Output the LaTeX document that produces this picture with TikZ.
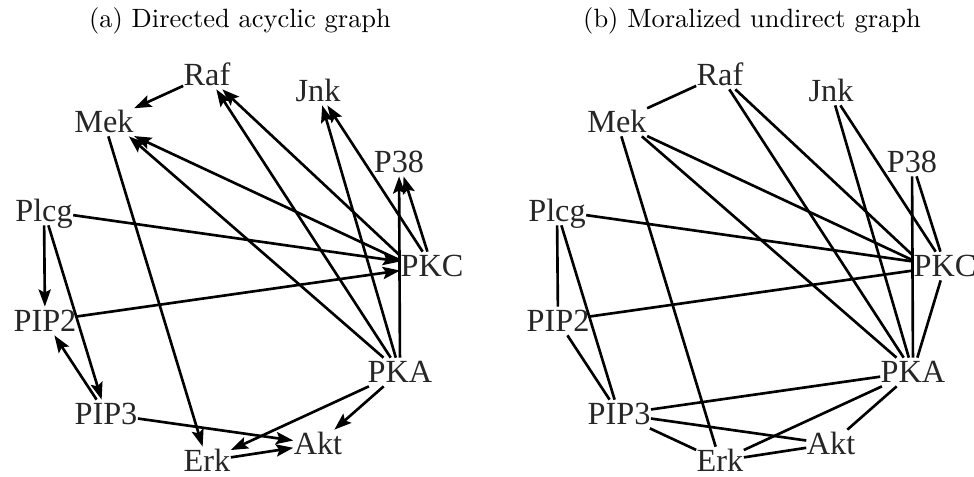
\documentclass[tikz,border=0pt]{standalone}
\usepackage{fontspec}
\newfontfamily\labfont{Liberation Serif}
\usetikzlibrary{arrows.meta}

% vertex labels of the signalling network, placed in pixel-like units
\newcommand\putvertices[1]{%
  \node[vtx] (#1raf)  at (207,75)  {Raf};
  \node[vtx] (#1mek)  at (104,122) {Mek};
  \node[vtx] (#1jnk)  at (318,91)  {Jnk};
  \node[vtx] (#1p38)  at (399,162) {P38};
  \node[vtx] (#1plcg) at (44,211)  {Plcg};
  \node[vtx] (#1pkc)  at (432,266) {PKC};
  \node[vtx] (#1pip2) at (45,321)  {PIP2};
  \node[vtx] (#1pka)  at (400,372) {PKA};
  \node[vtx] (#1pip3) at (106,414) {PIP3};
  \node[vtx] (#1erk)  at (207,461) {Erk};
  \node[vtx] (#1akt)  at (318,444) {Akt};
}

\begin{document}
\begin{tikzpicture}[x=0.378pt, y=-0.378pt,
  vtx/.style={font={\labfont\fontsize{12.2pt}{14pt}\selectfont}, text=black!85,
    inner xsep=0pt, inner ysep=1.2pt, text height=8.05pt, text depth=0pt},
  ttl/.style={font={\fontsize{10pt}{12pt}\selectfont}, inner sep=0pt},
  link/.style={line width=1pt, black},
  dirlink/.style={link, -{Stealth[length=6.5pt,width=4.6pt,inset=1.2pt]}},
]
\useasboundingbox (0,0) rectangle (974,476);
\clip (0,0) rectangle (974,476);

\node[ttl] (ttla) at (240,21) {(a) Directed acyclic graph};
\node[ttl] (ttlb) at (752,21) {(b) Moralized undirect graph};

% (a) directed acyclic graph
\begin{scope}
  \putvertices{a}
  \draw[dirlink] (araf) -- (amek);
  \draw[dirlink] (apkc.162) -- (araf);
  \draw[dirlink] (apka) -- (araf);
  \draw[dirlink] (apkc.170) -- (amek);
  \draw[dirlink] (apka) -- (amek.-30);
  \draw[dirlink] (amek) -- (aerk);
  \draw[dirlink] (apkc) -- (ajnk);
  \draw[dirlink] (apka) -- (ajnk);
  \draw[dirlink] (apka) -- (ap38);
  \draw[dirlink] (apkc) -- (ap38);
  \draw[dirlink] (aplcg) -- (apkc);
  \draw[dirlink] (apip2) -- (apkc);
  \draw[dirlink] (aplcg) -- (apip2);
  \draw[dirlink] (aplcg) -- (apip3);
  \draw[dirlink] (apip3) -- (apip2);
  \draw[dirlink] (apip3) -- (aakt);
  \draw[dirlink] (aerk) -- (aakt);
  \draw[dirlink] (apka) -- (aerk);
  \draw[dirlink] (apka) -- (aakt);
\end{scope}

% (b) moralized undirected graph
\begin{scope}[shift={(513,0)}]
  \putvertices{b}
  \draw[link] (braf) -- (bmek);
  \draw[link] (bpkc.162) -- (braf);
  \draw[link] (bpka) -- (braf);
  \draw[link] (bpkc.170) -- (bmek);
  \draw[link] (bpka) -- (bmek.-30);
  \draw[link] (bmek) -- (berk);
  \draw[link] (bpkc) -- (bjnk);
  \draw[link] (bpka) -- (bjnk);
  \draw[link] (bpka) -- (bp38);
  \draw[link] (bpkc) -- (bp38);
  \draw[link] (bplcg) -- (bpkc);
  \draw[link] (bpip2) -- (bpkc);
  \draw[link] (bplcg) -- (bpip2);
  \draw[link] (bplcg) -- (bpip3);
  \draw[link] (bpip3) -- (bpip2);
  \draw[link] (bpip3) -- (bakt);
  \draw[link] (berk) -- (bakt);
  \draw[link] (bpka) -- (berk);
  \draw[link] (bpka) -- (bakt);
  \draw[link] (bpkc) -- (bpka);
  \draw[link] (bpip3) -- (bpka);
  \draw[link] (bpip3) -- (berk);
\end{scope}
\end{tikzpicture}
\end{document}
